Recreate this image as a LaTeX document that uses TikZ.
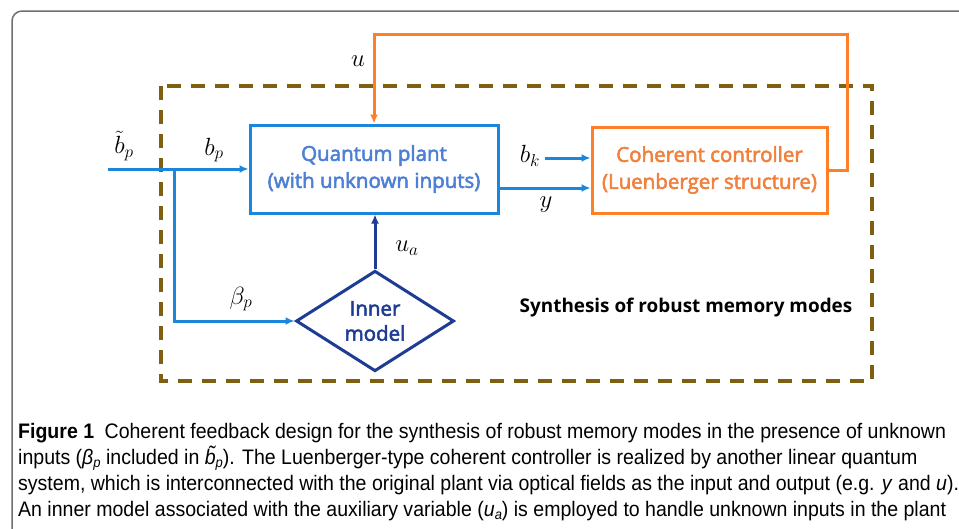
\documentclass[tikz,border=0pt]{standalone}
\usepackage{fontspec}
\setmainfont{Open Sans}
\newfontfamily\boxfont[FakeBold=2.6]{Open Sans}
\newfontfamily\capfont[FakeStretch=0.93]{Liberation Sans}
\usetikzlibrary{arrows.meta,shapes.geometric}
\definecolor{plantblue}{HTML}{1B87DC}
\definecolor{planttext}{HTML}{4C7FD5}
\definecolor{ctrlorange}{HTML}{FF7F27}
\definecolor{ctrltext}{HTML}{F0803C}
\definecolor{navy}{HTML}{1F3C94}
\definecolor{brown}{HTML}{7F5F12}
\definecolor{framegray}{HTML}{707070}
\tikzset{
  plantbox/.style={draw=plantblue, line width=3pt, minimum width=248pt, minimum height=88pt, align=center, text=planttext, font=\boxfont\fontsize{20.5}{27}\selectfont},
  ctrlbox/.style={draw=ctrlorange, line width=3pt, minimum width=235pt, minimum height=86pt, align=center, text=ctrltext, font=\boxfont\fontsize{20.5}{27}\selectfont},
  innerbox/.style={draw=navy, line width=3pt, diamond, minimum width=158pt, minimum height=98pt, inner sep=0pt, align=center, text=navy, font=\boxfont\fontsize{20.5}{25}\selectfont},
  bluearrow/.style={draw=plantblue, line width=3pt, -{Latex[length=9pt,width=8pt]}},
  navyarrow/.style={draw=navy, line width=3pt, -{Latex[length=9pt,width=8pt]}},
  orangearrow/.style={draw=ctrlorange, line width=3pt, -{Latex[length=9pt,width=8pt]}},
  mlabel/.style={font=\fontsize{23}{27}\selectfont},
  capline/.style={anchor=base west, inner sep=0pt, font=\capfont\fontsize{21}{24}\selectfont}
}
\newcommand{\capsub}[1]{\raisebox{-0.35ex}{\fontsize{14}{15}\selectfont\textit{#1}}}
\begin{document}
\begin{tikzpicture}[x=1pt,y=-1pt]
\useasboundingbox (0,0) rectangle (959,528);
\fill[white] (0,0) rectangle (959,528);
% outer frame
\draw[framegray, line width=1.5pt, rounded corners=10pt] (12,560) -- (12,11) -- (990,11);
% dashed region
\draw[brown, line width=3.5pt, dash pattern=on 14pt off 10pt] (161,86) rectangle (872,381);
% nodes
\node[plantbox] (qp) at (374,169) {Quantum plant\\(with unknown inputs)};
\node[ctrlbox] (cc) at (709.5,170) {Coherent controller\\(Luenberger structure)};
\node[innerbox] (im) at (375,321) {Inner\\model};
\coordinate (in) at (108,169);
\coordinate (br) at (174,169);
\coordinate (ur) at (847,34);
\coordinate (bk) at (545,158);
% connectors
\draw[bluearrow] (in) -- (qp.west);
\draw[bluearrow] (br) |- (im.west);
\draw[navyarrow] (im.north) -- (im.north |- qp.south);
\draw[bluearrow] ([yshift=-19pt]qp.east) -- ([yshift=-19pt]qp.east -| cc.west);
\draw[bluearrow] (bk) -- (bk -| cc.west);
\draw[orangearrow] (cc.east) -| (ur) -| (qp.north);
% labels
\node[mlabel] (lbt) at (124,146) {$\tilde b_p$};
\node[mlabel] (lbp) at (214,150) {$b_p$};
\node[mlabel] (lbeta) at (241,299) {$\beta_p$};
\node[mlabel] (lu) at (358,61) {$u$};
\node[mlabel] (lua) at (407,248) {$u_a$};
\node[mlabel] (lbk) at (530,156) {$b_k$};
\node[mlabel] (ly) at (546,205) {$y$};
\node[font=\bfseries\fontsize{18.9}{22}\selectfont] (syn) at (686,308) {Synthesis of robust memory modes};
% caption
\node[capline] (c1) at (18,438) {\textbf{Figure 1}\hspace{0.5em}Coherent feedback design for the synthesis of robust memory modes in the presence of unknown};
\node[capline] (c2) at (18,464) {inputs (\textit{β}\capsub{p} included in \textit{\~{b}}\capsub{p}). The Luenberger-type coherent controller is realized by another linear quantum};
\node[capline] (c3) at (18,490) {system, which is interconnected with the original plant via optical fields as the input and output (e.g. \textit{y} and \textit{u}).};
\node[capline] (c4) at (18,516) {An inner model associated with the auxiliary variable (\textit{u}\capsub{a}) is employed to handle unknown inputs in the plant};
\end{tikzpicture}
\end{document}
